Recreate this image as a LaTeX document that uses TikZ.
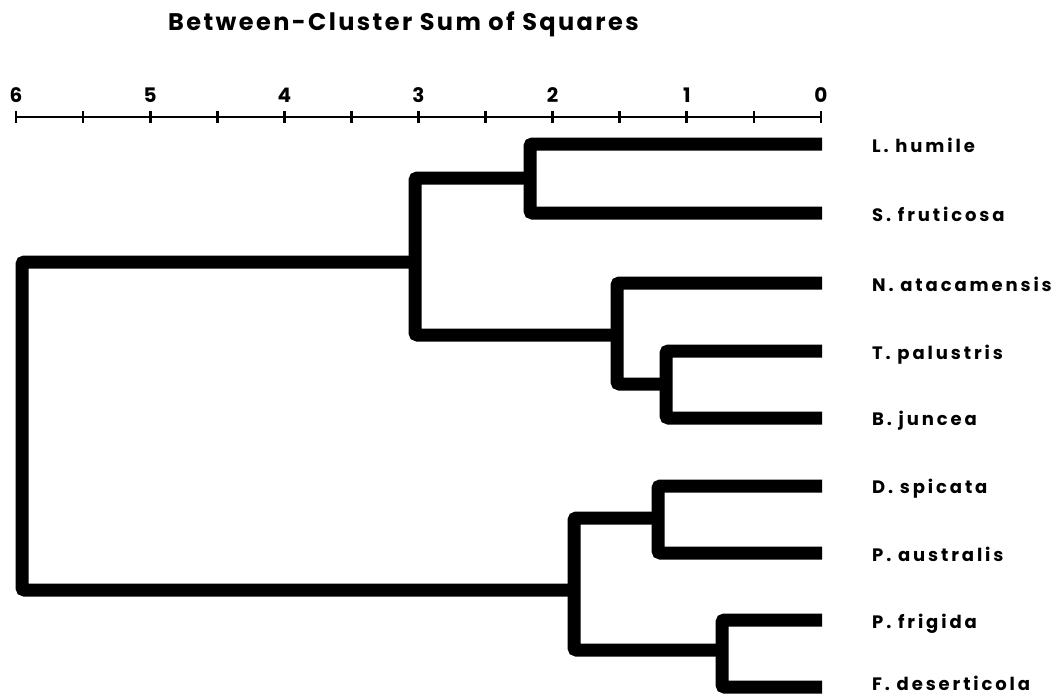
\documentclass[tikz,border=0pt]{standalone}
\usepackage{fontspec}
\setmainfont{Poppins}[LetterSpace=10]
\newfontfamily\labfont{Poppins}[LetterSpace=16]
\usetikzlibrary{calc}
\begin{document}
\begin{tikzpicture}[x=1pt,y=-1pt,
  branch/.style={line width=13pt, rounded corners=2.5pt},
  axisline/.style={line width=2.8pt},
  tickmark/.style={line width=2.8pt},
  leaflabel/.style={anchor=base west, inner sep=0pt, font=\labfont\fontsize{18}{20}\selectfont\bfseries},
  ticklabel/.style={anchor=base, inner sep=0pt, font=\fontsize{20}{22}\selectfont\bfseries},
  titlelabel/.style={anchor=base west, inner sep=0pt, font=\fontsize{24}{28}\selectfont\bfseries}]
\useasboundingbox (0,0) rectangle (1061,699);
\fill[white] (0,0) rectangle (1061,699);
% title
\node[titlelabel] (title) at (168,30) {Between-Cluster Sum of Squares};
% axis
\coordinate (axL) at (16,117);
\coordinate (axR) at (821,117);
\draw[axisline] (axL) -- (axR);
\foreach \k in {0,...,12} {
  \draw[tickmark] ($(axL)!\k/12!(axR)+(0,-6)$) -- ($(axL)!\k/12!(axR)+(0,6)$);
}
\foreach \v/\k in {6/0,5/2,4/4,3/6,2/8,1/10,0/12} {
  \node[ticklabel] (t\v) at ($(axL)!\k/12!(axR)+(0,-15)$) {\v};
}
% leaf ends
\coordinate (l1) at (822,144);
\coordinate (l2) at (822,213);
\coordinate (l3) at (822,283);
\coordinate (l4) at (822,351);
\coordinate (l5) at (822,418);
\coordinate (l6) at (822,486);
\coordinate (l7) at (822,553);
\coordinate (l8) at (822,620);
\coordinate (l9) at (822,687);
% labels
\node[leaflabel] (n1) at (872,152) {L. humile};
\node[leaflabel] (n2) at (872,221) {S. fruticosa};
\node[leaflabel] (n3) at (872,291) {N. atacamensis};
\node[leaflabel] (n4) at (872,359) {T. palustris};
\node[leaflabel] (n5) at (872,425) {B. juncea};
\node[leaflabel] (n6) at (872,493) {D. spicata};
\node[leaflabel] (n7) at (872,561) {P. australis};
\node[leaflabel] (n8) at (872,628) {P. frigida};
\node[leaflabel] (n9) at (872,690) {F. deserticola};
% merge points
\coordinate (m12) at (530,178);
\coordinate (m45) at (666,384);
\coordinate (m345) at (617,335);
\coordinate (mtop) at (415,262);
\coordinate (m67) at (658,518);
\coordinate (m89) at (722,650);
\coordinate (mbot) at (574,590);
\coordinate (root) at (22,426);
% branches
\draw[branch] (l1) -| (m12) |- (l2);
\draw[branch] (l4) -| (m45) |- (l5);
\draw[branch] (l3) -| (m345) |- (m45);
\draw[branch] (m12) -| (mtop) |- (m345);
\draw[branch] (l6) -| (m67) |- (l7);
\draw[branch] (l8) -| (m89) |- (l9);
\draw[branch] (m67) -| (mbot) |- (m89);
\draw[branch] (mtop) -| (root) |- (mbot);
\end{tikzpicture}
\end{document}
